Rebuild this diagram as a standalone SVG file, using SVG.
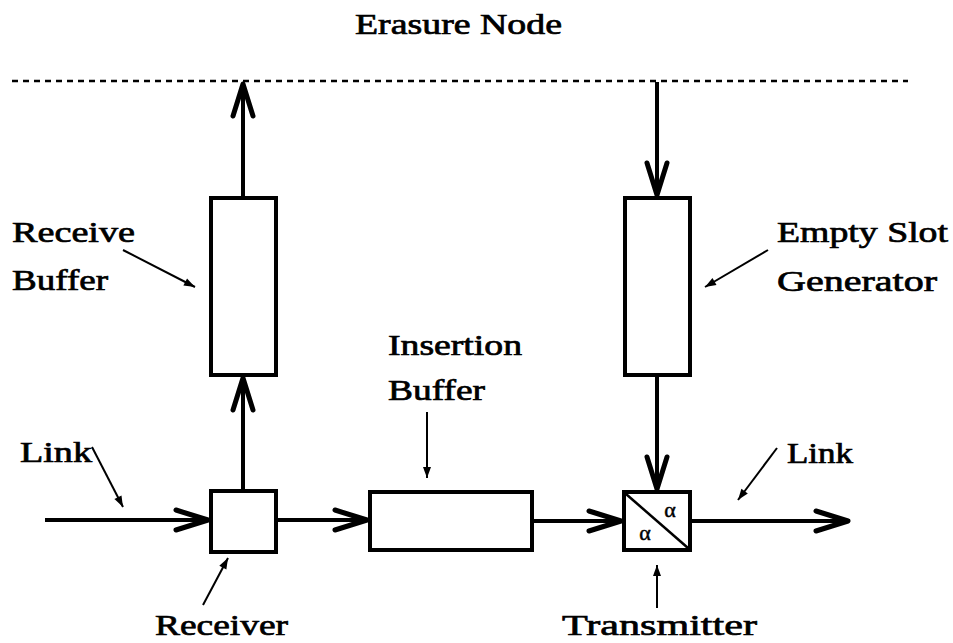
<svg xmlns="http://www.w3.org/2000/svg" width="953" height="643" viewBox="0 0 953 643">
<style>
.box{fill:#fff;stroke:#000;stroke-width:4}
.conn{stroke:#000;stroke-width:4;fill:none}
.lead{stroke:#000;stroke-width:2;fill:none}
.t{font-family:"Liberation Serif","Times New Roman",serif;font-size:29px;fill:#000;stroke:#000;stroke-width:0.7}
.a{font-family:"Liberation Serif","Times New Roman",serif;font-size:22px;fill:#000;stroke:#000;stroke-width:0.5}
</style>
<defs>
<marker id="chev" markerUnits="userSpaceOnUse" markerWidth="40" markerHeight="30" refX="0" refY="0" viewBox="-36 -15 40 30" orient="auto" overflow="visible">
<path d="M-32,-10 L0,0 L-32,10" fill="none" stroke="#000" stroke-width="5" stroke-linejoin="round" stroke-linecap="round"/>
</marker>
<marker id="tri" markerUnits="userSpaceOnUse" markerWidth="14" markerHeight="10" refX="0" refY="0" viewBox="-12 -5 14 10" orient="auto" overflow="visible">
<path d="M-11,-4 L0,0 L-11,4 Z" fill="#000"/>
</marker>
</defs>

<line x1="12" y1="81" x2="908" y2="81" stroke="#000" stroke-width="2.5" stroke-dasharray="6,5"/>
<text class="t" x="355" y="34" textLength="207" lengthAdjust="spacingAndGlyphs">Erasure Node</text>

<g id="receive-buffer">
<rect class="box" x="211" y="198" width="65" height="177"/>
<text class="t" x="12" y="242" textLength="123" lengthAdjust="spacingAndGlyphs">Receive</text>
<text class="t" x="12" y="290" textLength="96" lengthAdjust="spacingAndGlyphs">Buffer</text>
<line class="lead" x1="123" y1="250" x2="195" y2="287" marker-end="url(#tri)"/>
</g>

<g id="empty-slot-generator">
<rect class="box" x="625" y="198" width="65" height="177"/>
<text class="t" x="777" y="242" textLength="171" lengthAdjust="spacingAndGlyphs">Empty Slot</text>
<text class="t" x="777" y="291" textLength="160" lengthAdjust="spacingAndGlyphs">Generator</text>
<line class="lead" x1="768" y1="250" x2="705" y2="287" marker-end="url(#tri)"/>
</g>

<g id="receiver">
<rect class="box" x="211" y="491" width="65" height="61"/>
<text class="t" x="155" y="635" textLength="133" lengthAdjust="spacingAndGlyphs">Receiver</text>
<line class="lead" x1="203" y1="605" x2="228" y2="558" marker-end="url(#tri)"/>
</g>

<g id="insertion-buffer">
<rect class="box" x="370" y="492" width="162" height="58"/>
<text class="t" x="388" y="355" textLength="134" lengthAdjust="spacingAndGlyphs">Insertion</text>
<text class="t" x="388" y="400" textLength="97" lengthAdjust="spacingAndGlyphs">Buffer</text>
<line class="lead" x1="427" y1="412" x2="427" y2="478" marker-end="url(#tri)"/>
</g>

<g id="transmitter">
<rect class="box" x="624" y="492" width="66" height="58"/>
<line x1="626" y1="494" x2="688" y2="548" stroke="#000" stroke-width="2.5"/>
<text class="a" x="670" y="517" text-anchor="middle">α</text>
<text class="a" x="645" y="540" text-anchor="middle">α</text>
<text class="t" x="562" y="635" textLength="195" lengthAdjust="spacingAndGlyphs">Transmitter</text>
<line class="lead" x1="657" y1="608" x2="657" y2="565" marker-end="url(#tri)"/>
</g>

<g id="link-labels">
<text class="t" x="20" y="462" textLength="72" lengthAdjust="spacingAndGlyphs">Link</text>
<line class="lead" x1="92" y1="447" x2="123" y2="507" marker-end="url(#tri)"/>
<text class="t" x="787" y="463" textLength="66" lengthAdjust="spacingAndGlyphs">Link</text>
<line class="lead" x1="777" y1="448" x2="738" y2="500" marker-end="url(#tri)"/>
</g>

<g id="connectors">
<line class="conn" x1="45" y1="520" x2="208" y2="520" marker-end="url(#chev)"/>
<line class="conn" x1="276" y1="520" x2="367" y2="520" marker-end="url(#chev)"/>
<line class="conn" x1="532" y1="521" x2="621" y2="521" marker-end="url(#chev)"/>
<line class="conn" x1="690" y1="521" x2="848" y2="521" marker-end="url(#chev)"/>
<line class="conn" x1="243" y1="489" x2="243" y2="378" marker-end="url(#chev)"/>
<line class="conn" x1="243" y1="196" x2="243" y2="84" marker-end="url(#chev)"/>
<line class="conn" x1="657" y1="82" x2="657" y2="195" marker-end="url(#chev)"/>
<line class="conn" x1="657" y1="377" x2="657" y2="489" marker-end="url(#chev)"/>
</g>
</svg>
